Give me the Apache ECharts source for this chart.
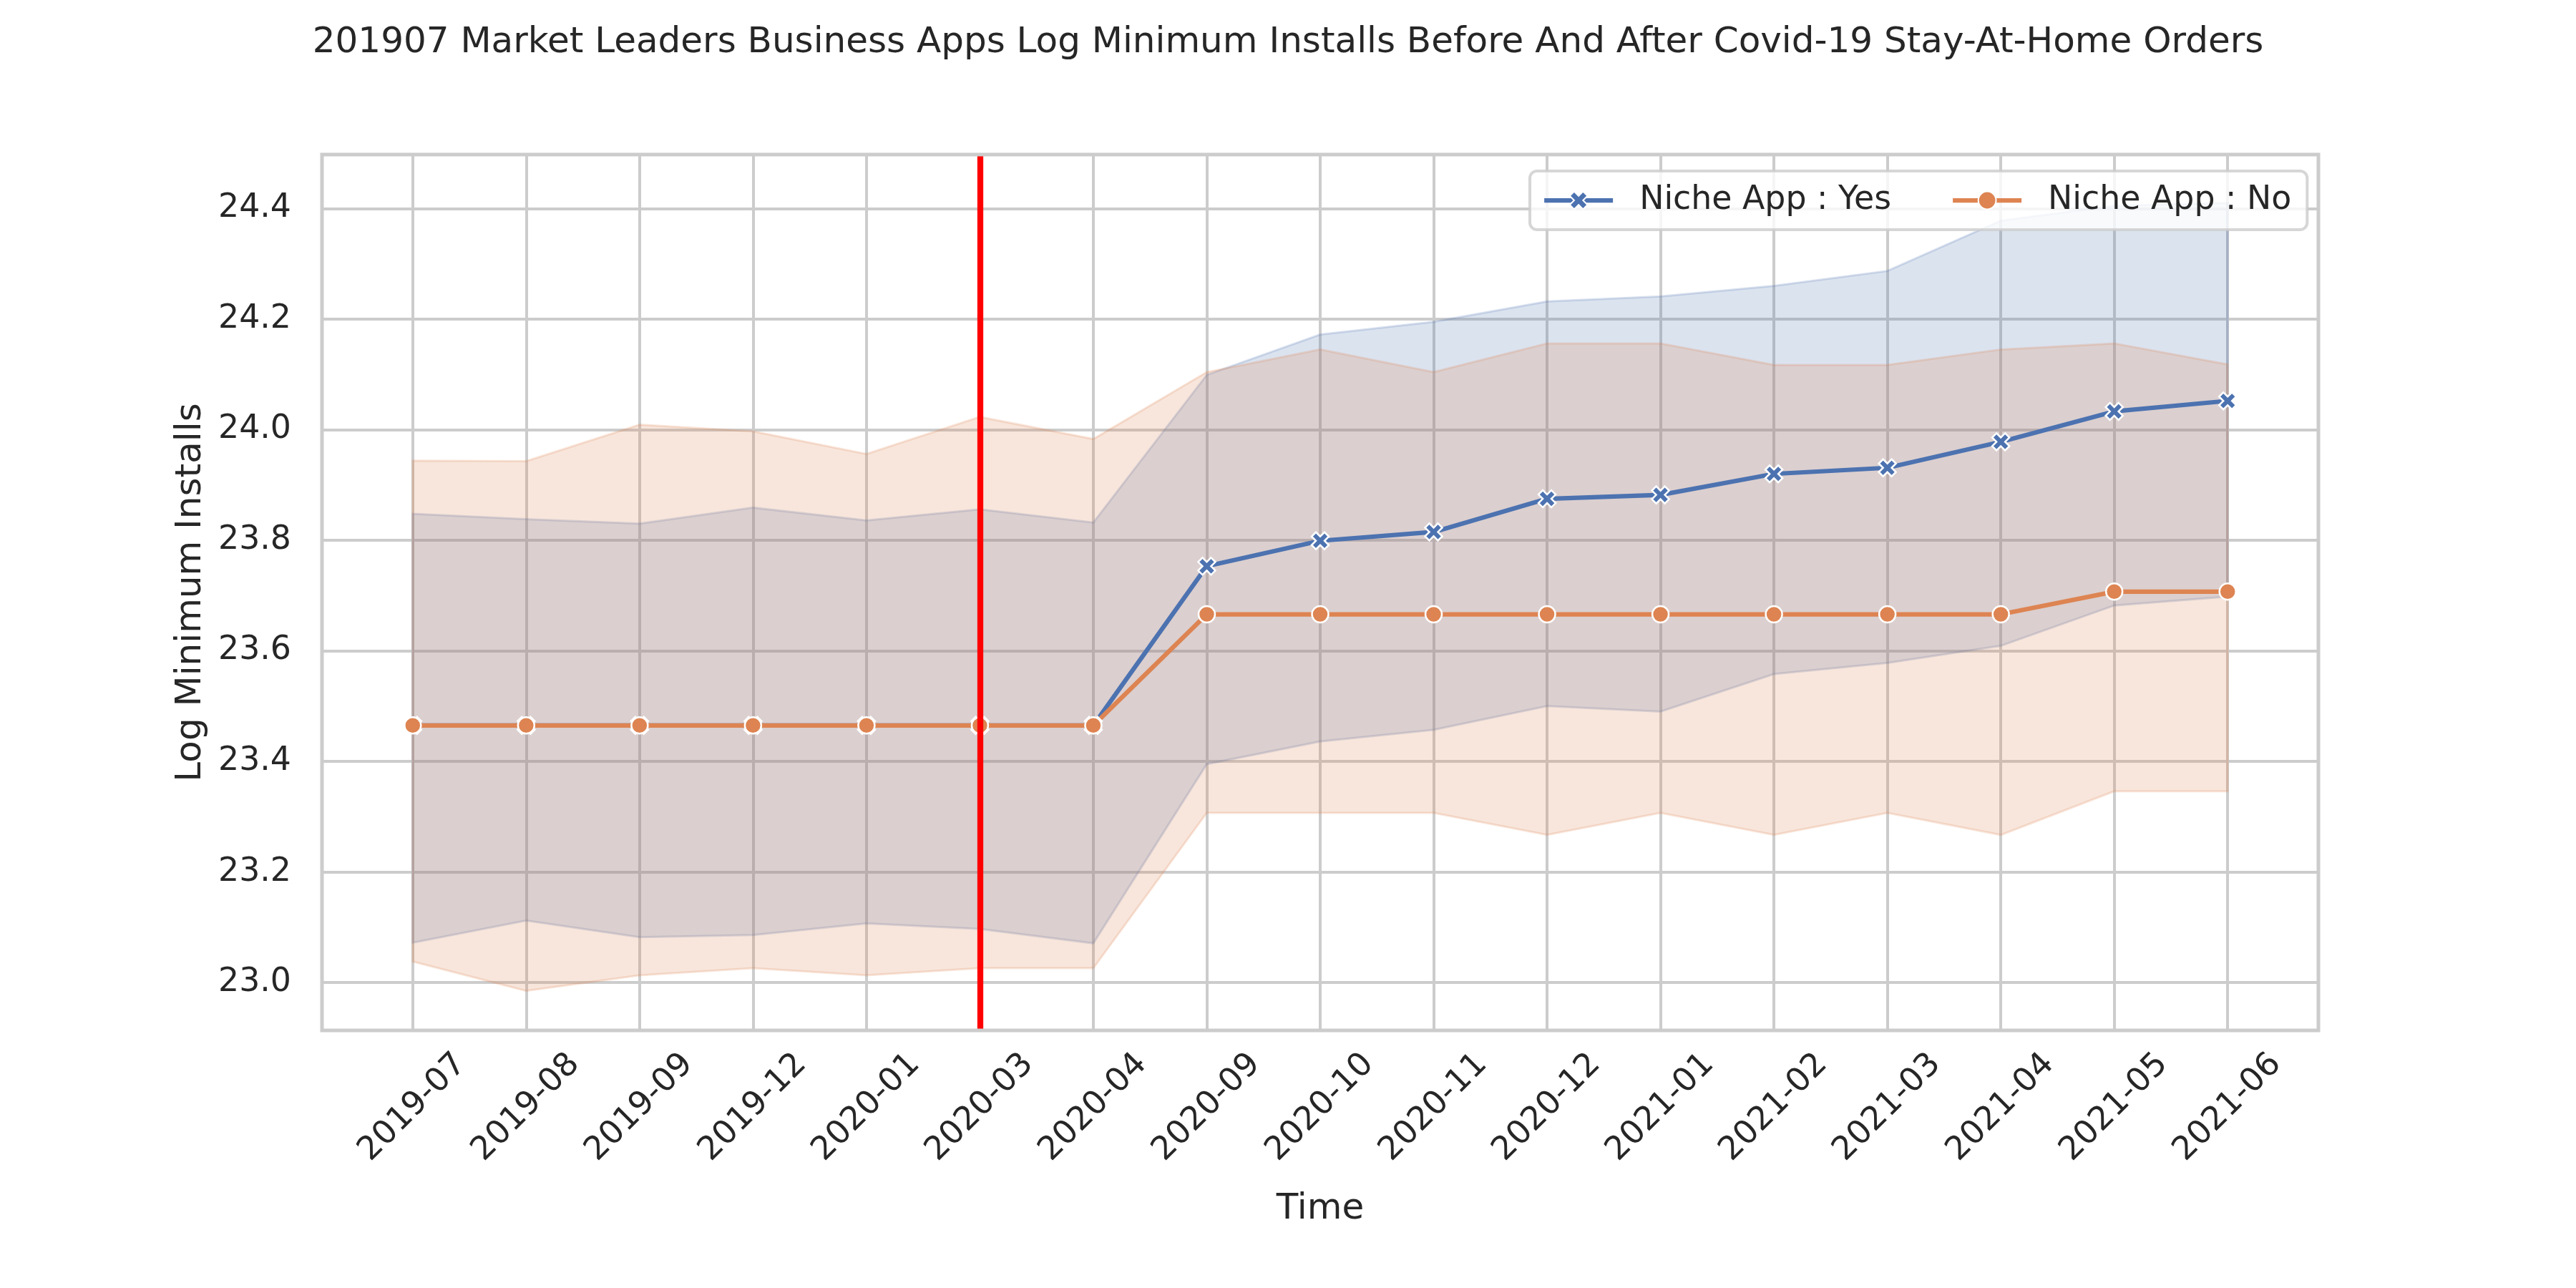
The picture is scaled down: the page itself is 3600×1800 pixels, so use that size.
<!DOCTYPE html>
<html>
<head>
<meta charset="utf-8">
<script src="https://cdn.jsdelivr.net/npm/echarts@6/dist/echarts.min.js"></script>
<style>html,body{margin:0;padding:0;background:#fff}#chart{width:3600px;height:1800px}</style>
</head>
<body>
<div id="chart"></div>
<script>
const categories = ['2019-07','2019-08','2019-09','2019-12','2020-01','2020-03','2020-04','2020-09','2020-10','2020-11','2020-12','2021-01','2021-02','2021-03','2021-04','2021-05','2021-06'];
const yesMean  = [23.465,23.465,23.465,23.465,23.465,23.465,23.465,23.753,23.799,23.815,23.875,23.882,23.920,23.931,23.978,24.033,24.052];
const yesLower = [23.072,23.112,23.082,23.086,23.107,23.097,23.071,23.395,23.436,23.457,23.500,23.490,23.558,23.578,23.609,23.682,23.698];
const yesUpper = [23.848,23.838,23.830,23.859,23.836,23.856,23.832,24.099,24.172,24.195,24.232,24.241,24.260,24.287,24.378,24.405,24.410];
const noMean   = [23.465,23.465,23.465,23.465,23.465,23.465,23.465,23.666,23.666,23.666,23.666,23.666,23.666,23.666,23.666,23.707,23.707];
const noLower  = [23.038,22.985,23.013,23.026,23.013,23.026,23.026,23.307,23.307,23.307,23.267,23.307,23.267,23.307,23.267,23.346,23.346];
const noUpper  = [23.944,23.943,24.009,23.997,23.956,24.023,23.983,24.104,24.145,24.104,24.156,24.156,24.117,24.117,24.145,24.156,24.118];
const covidCategory = '2020-03';
const yMin = 22.9135, yMax = 24.4975;
const titleText = '201907 Market Leaders Business Apps Log Minimum Installs Before And After Covid-19 Stay-At-Home Orders';
const yesName = 'Niche App : Yes', noName = 'Niche App : No';

const FONT = 'DejaVu Sans';
const TXT = '#262626';
const BLUE = '#4c72b0', ORANGE = '#dd8452';
const X_PATH = 'path://M3,0L4,1L3,2L4,3L3,4L2,3L1,4L0,3L1,2L0,1L1,0L2,1Z';

function bandSeries(name, lower, upper, rgb) {
  return {
    type: 'custom', name: name, coordinateSystem: 'cartesian2d',
    xAxisIndex: 1, yAxisIndex: 1, silent: true, z: 1,
    data: lower.map((v, i) => [i, v, upper[i]]),
    encode: { x: 0, y: [1, 2] },
    renderItem: function (params, api) {
      if (params.dataIndex !== 0) return null;
      const pts = [];
      for (let i = 0; i < upper.length; i++) pts.push(api.coord([i, upper[i]]));
      for (let i = lower.length - 1; i >= 0; i--) pts.push(api.coord([i, lower[i]]));
      return {
        type: 'polygon', shape: { points: pts },
        style: { fill: 'rgba(' + rgb + ',0.2)', stroke: 'rgba(' + rgb + ',0.22)', lineWidth: 3 }
      };
    }
  };
}

const chart = echarts.init(document.getElementById('chart'), null, { renderer: 'canvas' });
const option = {
  animation: false,
  backgroundColor: '#ffffff',
  title: {
    text: titleText, left: 'center', top: 30,
    textStyle: { fontFamily: FONT, fontSize: 50, fontWeight: 'normal', color: TXT }
  },
  legend: {
    data: [yesName, noName],
    left: 2138, top: 239, orient: 'horizontal',
    itemWidth: 96, itemHeight: 31, itemGap: 83,
    padding: [16, 22, 16, 17],
    backgroundColor: 'rgba(255,255,255,0.8)',
    borderColor: 'rgba(204,204,204,0.8)', borderWidth: 4, borderRadius: 10,
    lineStyle: { width: 6.25 },
    textStyle: { fontFamily: FONT, fontSize: 45.8, color: TXT, padding: [0, 0, 0, 32], lineHeight: 50 }
  },
  grid: [
    { left: 450, top: 216, width: 2790, height: 1224, show: true, z: 10,
      backgroundColor: 'rgba(0,0,0,0)', borderColor: '#cccccc', borderWidth: 5 },
    { left: 576.8, top: 216, width: 2536.4, height: 1224 }
  ],
  xAxis: [
    { gridIndex: 0, type: 'value', min: 0, max: 1, show: false },
    { gridIndex: 1, type: 'value', min: 0, max: categories.length - 1, interval: 1,
      name: 'Time', nameLocation: 'middle', nameGap: 250,
      nameTextStyle: { fontFamily: FONT, fontSize: 50, color: TXT, verticalAlign: 'middle' },
      axisLine: { show: false }, axisTick: { show: false },
      splitLine: { show: true, lineStyle: { color: '#cccccc', width: 4 } },
      axisLabel: { rotate: 45, align: 'center', verticalAlign: 'middle', margin: 108,
        fontFamily: FONT, fontSize: 45.8, color: TXT,
        formatter: v => categories[Math.round(v)] || '' } }
  ],
  yAxis: [
    { gridIndex: 0, type: 'value', min: yMin, max: yMax, splitNumber: 8, minInterval: 0.2, maxInterval: 0.2,
      name: 'Log Minimum Installs', nameLocation: 'middle', nameGap: 183,
      nameTextStyle: { fontFamily: FONT, fontSize: 50, color: TXT, verticalAlign: 'middle' },
      axisLine: { show: false }, axisTick: { show: false },
      splitLine: { show: true, lineStyle: { color: '#cccccc', width: 4 } },
      axisLabel: { showMinLabel: false, showMaxLabel: false, margin: 43,
        fontFamily: FONT, fontSize: 45.8, color: TXT, formatter: v => v.toFixed(1) } },
    { gridIndex: 1, type: 'value', min: yMin, max: yMax, show: false }
  ],
  series: [
    bandSeries('yesBand', yesLower, yesUpper, '76,114,176'),
    bandSeries('noBand', noLower, noUpper, '221,132,82'),
    { type: 'line', name: yesName, xAxisIndex: 1, yAxisIndex: 1, z: 3, clip: false,
      data: yesMean.map((v, i) => [i, v]),
      symbol: X_PATH, symbolSize: 24,
      lineStyle: { color: BLUE, width: 6.25 },
      itemStyle: { color: BLUE, borderColor: '#ffffff', borderWidth: 2.5 } },
    { type: 'line', name: noName, xAxisIndex: 1, yAxisIndex: 1, z: 3, clip: false,
      data: noMean.map((v, i) => [i, v]),
      symbol: 'circle', symbolSize: 23,
      lineStyle: { color: ORANGE, width: 6.25 },
      itemStyle: { color: ORANGE, borderColor: '#ffffff', borderWidth: 2.5 } },
    { type: 'line', name: 'covid', xAxisIndex: 1, yAxisIndex: 1, z: 4, data: [],
      markLine: { silent: true, symbol: ['none', 'none'], label: { show: false },
        lineStyle: { color: '#ff0000', width: 8.3, type: 'solid' },
        data: [{ xAxis: categories.indexOf(covidCategory) }] } }
  ]
};
chart.setOption(option);
</script>
</body>
</html>
